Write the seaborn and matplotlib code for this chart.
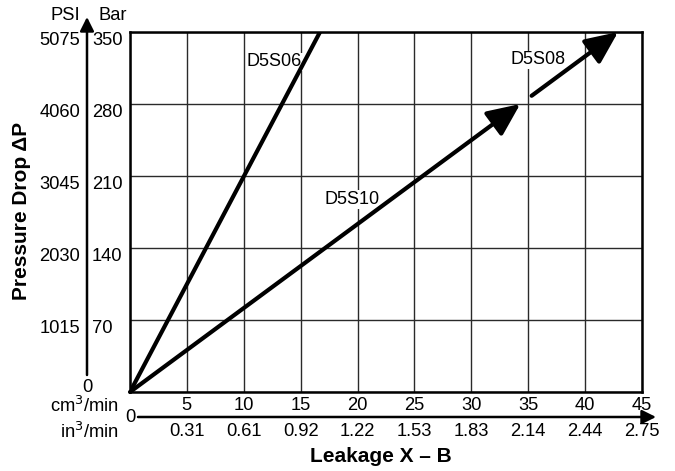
import matplotlib
matplotlib.use('Agg')
import matplotlib.pyplot as plt
import matplotlib.transforms as mtransforms
import seaborn as sns

# axis values
leakage_cm = [5, 10, 15, 20, 25, 30, 35, 40, 45]
leakage_in = ['0.31', '0.61', '0.92', '1.22', '1.53', '1.83', '2.14', '2.44', '2.75']
bar_ticks = [70, 140, 210, 280, 350]
psi_ticks = [1015, 2030, 3045, 4060, 5075]

# series (cm3/min, bar)
d5s06_x = [0, 16.7]
d5s06_y = [0, 350]
d5s10_x = [0, 34.3]
d5s10_y = [0, 280]
d5s08_x = [35.3, 42.9]
d5s08_y = [288, 350]

# label positions (data coords)
labels = ['D5S06', 'D5S10', 'D5S08']
label_x = [12.7, 19.5, 35.9]
label_y = [321, 187, 323]

W, H = 675, 471

def fx(px):
    return px / W

def fy(py):
    return 1 - py / H

sns.set_style('white')
plt.rcParams['font.family'] = ['Liberation Sans', 'DejaVu Sans']
plt.rcParams['text.color'] = 'black'

fig = plt.figure(figsize=(6.75, 4.71), dpi=100)
ax = fig.add_axes([fx(130), fy(392), fx(642) - fx(130), fy(32) - fy(392)])

sns.lineplot(x=d5s06_x, y=d5s06_y, ax=ax, color='black', lw=3, zorder=3)
arrow = dict(arrowstyle='-|>,head_length=1.0,head_width=0.45', lw=3,
             color='black', mutation_scale=20, shrinkA=0, shrinkB=0)
ax.annotate('', xy=(d5s10_x[1], d5s10_y[1]), xytext=(d5s10_x[0], d5s10_y[0]),
            arrowprops=arrow, zorder=3)
ax.annotate('', xy=(d5s08_x[1], d5s08_y[1]), xytext=(d5s08_x[0], d5s08_y[0]),
            arrowprops=arrow, zorder=3)

for t, x, y in zip(labels, label_x, label_y):
    ax.text(x, y, t, fontsize=13, ha='center', va='center', zorder=2,
            bbox=dict(facecolor='white', edgecolor='none', pad=0.5))

ax.set_xlim(0, 45)
ax.set_ylim(0, 350)
ax.set_xticks([0] + leakage_cm)
ax.set_yticks([0] + bar_ticks)
ax.grid(True, color='#2a2a2a', lw=1, zorder=1)
ax.set_axisbelow(True)
ax.tick_params(length=0, labelbottom=False, labelleft=False)
for s in ax.spines.values():
    s.set_visible(True)
    s.set_color('black')
    s.set_linewidth(1.8)

fs = 13.2
ty = mtransforms.blended_transform_factory(fig.transFigure, ax.transData)
tx = mtransforms.blended_transform_factory(ax.transData, fig.transFigure)

# y tick labels: PSI and Bar
for b, p in zip(bar_ticks, psi_ticks):
    ax.text(fx(92), b, str(b), transform=ty, fontsize=fs, ha='left', va='top')
    ax.text(fx(80), b, str(p), transform=ty, fontsize=fs, ha='right', va='top')
fig.text(fx(80), fy(15), 'PSI', fontsize=fs, ha='right', va='center')
fig.text(fx(98), fy(15), 'Bar', fontsize=fs, ha='left', va='center')
fig.text(fx(87), fy(388), '0', fontsize=fs, ha='center', va='center')

# vertical arrow
fig.add_artist(matplotlib.patches.FancyArrowPatch(
    (fx(87), fy(375)), (fx(87), fy(17)), transform=fig.transFigure,
    arrowstyle='-|>,head_length=0.6,head_width=0.3', mutation_scale=14,
    lw=1.8, color='black', shrinkA=0, shrinkB=0))

# horizontal arrow
fig.add_artist(matplotlib.patches.FancyArrowPatch(
    (fx(138), fy(417)), (fx(656), fy(417)), transform=fig.transFigure,
    arrowstyle='-|>,head_length=0.6,head_width=0.3', mutation_scale=14,
    lw=1.8, color='black', shrinkA=0, shrinkB=0))
fig.text(fx(130), fy(418), '0', fontsize=fs, ha='center', va='center')

# x tick labels
for c, i in zip(leakage_cm, leakage_in):
    ax.text(c, fy(406), str(c), transform=tx, fontsize=fs, ha='center', va='center')
    ax.text(c, fy(432), i, transform=tx, fontsize=fs, ha='center', va='center')
fig.text(fx(119), fy(406), 'cm$^3$/min', fontsize=fs, ha='right', va='center')
fig.text(fx(119), fy(432), 'in$^3$/min', fontsize=fs, ha='right', va='center')

fig.text(fx(381), fy(457), 'Leakage X – B', fontsize=15, fontweight='bold',
         ha='center', va='center')
fig.text(fx(22), fy(211), 'Pressure Drop ΔP', fontsize=15, fontweight='bold',
         rotation=90, ha='center', va='center')

fig.savefig('out.png', dpi=100)
